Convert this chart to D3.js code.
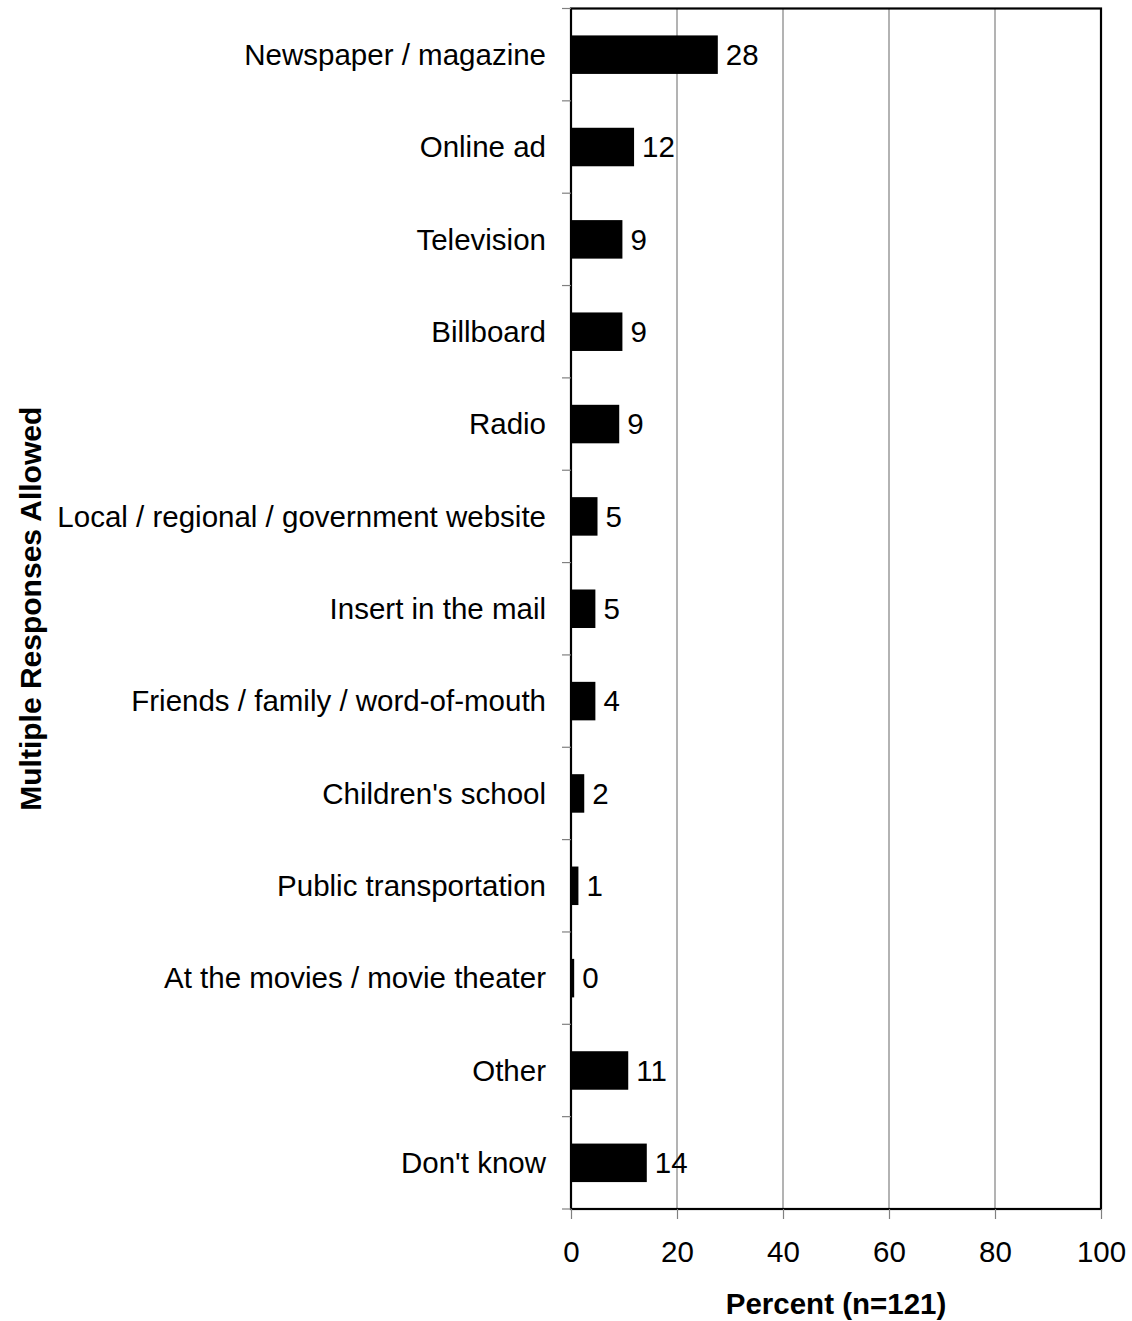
<!DOCTYPE html>
<html>
<head>
<meta charset="utf-8">
<script src="https://cdn.jsdelivr.net/npm/d3@7"></script>
<style>
  html, body { margin: 0; padding: 0; background: #fff; }
  svg { display: block; font-family: "Liberation Sans", Arial, sans-serif; }
</style>
</head>
<body>
<svg id="chart" width="1132" height="1321"></svg>
<script>
const categories = [
  "Newspaper / magazine",
  "Online ad",
  "Television",
  "Billboard",
  "Radio",
  "Local / regional / government website",
  "Insert in the mail",
  "Friends / family / word-of-mouth",
  "Children's school",
  "Public transportation",
  "At the movies / movie theater",
  "Other",
  "Don't know"
];
const values = [27.7, 11.9, 9.7, 9.7, 9.1, 5.0, 4.6, 4.6, 2.5, 1.4, 0.6, 10.8, 14.3];
const valueLabels = ["28", "12", "9", "9", "9", "5", "5", "4", "2", "1", "0", "11", "14"];
const xTicks = [0, 20, 40, 60, 80, 100];
const xTitle = "Percent (n=121)";
const yTitle = "Multiple Responses Allowed";

const svg = d3.select("#chart");
const margin = { left: 571, right: 31, top: 8.5, bottom: 112 };
const W = 1132, H = 1321;
const fs = 29.5;

const x = d3.scaleLinear().domain([0, 100]).range([margin.left, W - margin.right]);
const y = d3.scaleBand().domain(categories).range([margin.top, H - margin.bottom]).paddingInner(0.583).paddingOuter(0.2915);
const yEdges = d3.scaleBand().domain(categories).range([margin.top, H - margin.bottom]);

// gridlines
svg.append("g").selectAll("line")
  .data(xTicks.filter(d => d > 0 && d < 100))
  .join("line")
  .attr("x1", d => x(d)).attr("x2", d => x(d))
  .attr("y1", margin.top).attr("y2", H - margin.bottom)
  .attr("stroke", "#808080").attr("stroke-width", 1.2);

// bars
svg.append("g").selectAll("rect")
  .data(categories)
  .join("rect")
  .attr("x", x(0))
  .attr("y", d => y(d))
  .attr("width", (d, i) => x(values[i]) - x(0))
  .attr("height", y.bandwidth())
  .attr("fill", "#000");

// value labels
svg.append("g").selectAll("text")
  .data(categories)
  .join("text")
  .attr("x", (d, i) => x(values[i]) + 8)
  .attr("y", d => y(d) + y.bandwidth() / 2)
  .attr("dy", "0.35em")
  .attr("font-size", fs)
  .attr("fill", "#000")
  .text((d, i) => valueLabels[i]);

// plot frame
const x0 = x(0), x1 = x(100), y0 = margin.top, y1 = H - margin.bottom;
svg.append("rect")
  .attr("x", x0).attr("y", y0)
  .attr("width", x1 - x0).attr("height", y1 - y0)
  .attr("fill", "none").attr("stroke", "#000").attr("stroke-width", 2.2);

// x axis
const xAxis = svg.append("g")
  .attr("transform", `translate(0,${y1})`)
  .call(d3.axisBottom(x).tickValues(xTicks).tickSize(10).tickPadding(22).tickFormat(d3.format("d")));
xAxis.select(".domain").remove();
xAxis.selectAll(".tick line").attr("stroke", "#808080").attr("stroke-width", 1.2);
xAxis.selectAll(".tick text").attr("font-size", fs).attr("fill", "#000")
  .attr("font-family", "'Liberation Sans', Arial, sans-serif");

// y category ticks at band edges
const edges = categories.map(c => yEdges(c)).concat([y1]);
svg.append("g").selectAll("line")
  .data(edges)
  .join("line")
  .attr("x1", x0 - 9).attr("x2", x0)
  .attr("y1", d => d).attr("y2", d => d)
  .attr("stroke", "#808080").attr("stroke-width", 1.2);

// category labels
svg.append("g").selectAll("text")
  .data(categories)
  .join("text")
  .attr("x", x0 - 25)
  .attr("y", d => yEdges(d) + yEdges.bandwidth() / 2)
  .attr("dy", "0.35em")
  .attr("text-anchor", "end")
  .attr("font-size", fs)
  .attr("fill", "#000")
  .text(d => d);

// axis titles
svg.append("text")
  .attr("x", (x0 + x1) / 2)
  .attr("y", 1304)
  .attr("dy", "0.35em")
  .attr("text-anchor", "middle")
  .attr("font-size", fs)
  .attr("font-weight", "bold")
  .text(xTitle);

svg.append("text")
  .attr("transform", `translate(30,${(y0 + y1) / 2}) rotate(-90)`)
  .attr("dy", "0.35em")
  .attr("text-anchor", "middle")
  .attr("font-size", 30)
  .attr("font-weight", "bold")
  .text(yTitle);
</script>
</body>
</html>
